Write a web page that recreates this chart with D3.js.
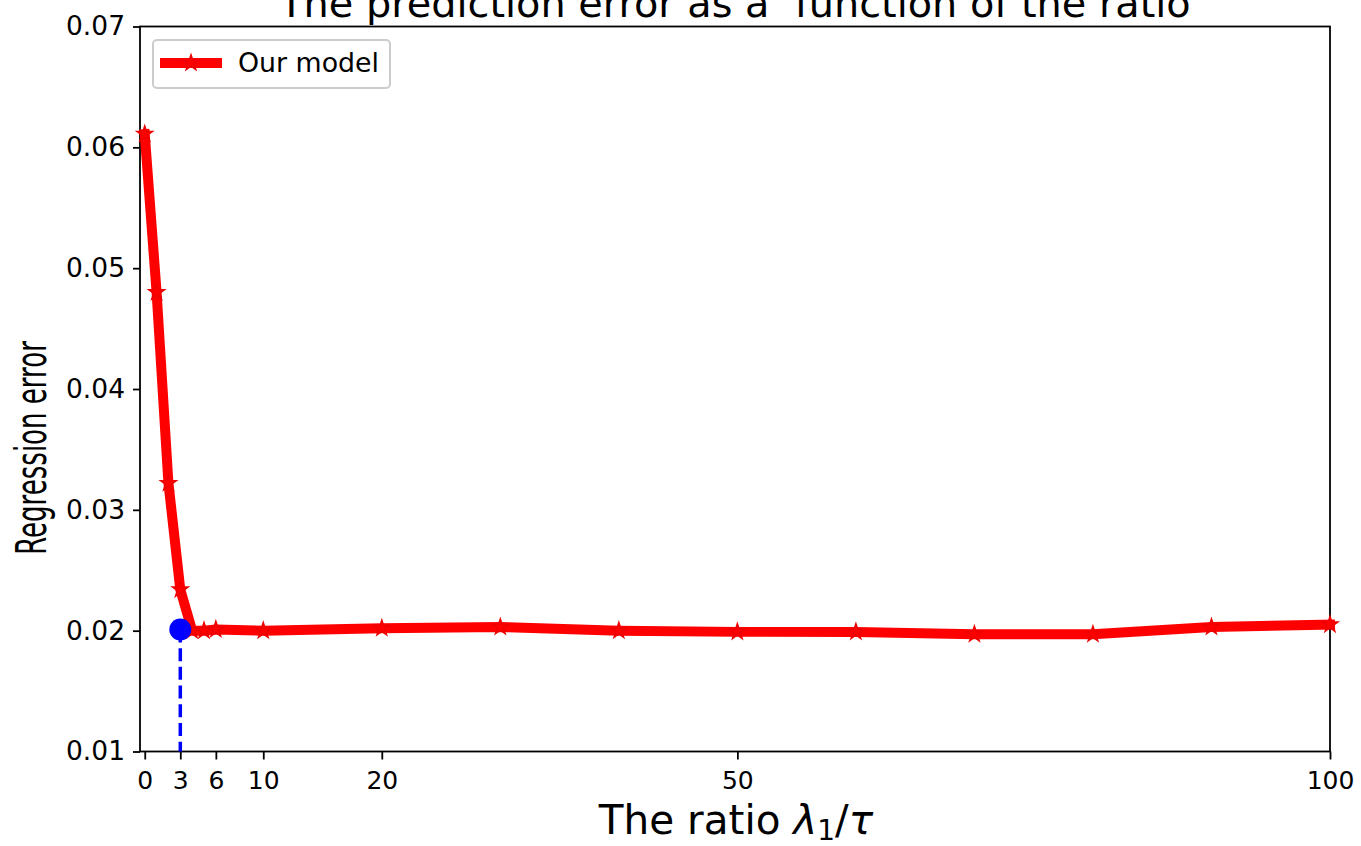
<!DOCTYPE html>
<html><head><meta charset="utf-8">
<script src="https://cdn.jsdelivr.net/npm/d3@7"></script>
<style>body{margin:0;background:#fff}svg{display:block;font-family:"DejaVu Sans",sans-serif}</style>
</head><body><svg id="c" width="1361" height="846"></svg>
<script>
const ratios = [0, 1, 2, 3, 4, 5, 6, 10, 20, 30, 40, 50, 60, 70, 80, 90, 100];
const errors = [0.0611, 0.0480, 0.0322, 0.0234, 0.0200, 0.0200, 0.0201, 0.0200, 0.0202, 0.0203, 0.0200, 0.0199, 0.0199, 0.0197, 0.0197, 0.0203, 0.0205];
const bestPoint = [3, 0.0201];
const xTicks = [0, 3, 6, 10, 20, 50, 100];
const yTicks = [0.01, 0.02, 0.03, 0.04, 0.05, 0.06, 0.07];
const seriesName = "Our model";
const titleText = "The prediction error as a  function of the ratio";
const yLabelText = "Regression error";

const svg = d3.select("#c");
const L = 140, R = 1330, T = 26.5, B = 751.5;
const x = d3.scaleLinear().domain([-0.4, 100]).range([L, R]);
const y = d3.scaleLinear().domain([0.01, 0.07]).range([B, T]);

// axes
const xa = svg.append("g").attr("transform", `translate(0,${B})`)
  .call(d3.axisBottom(x).tickValues(xTicks).tickFormat(d3.format("d")).tickSize(8).tickPadding(6));
const ya = svg.append("g").attr("transform", `translate(${L},0)`)
  .call(d3.axisLeft(y).tickValues(yTicks).tickFormat(d3.format(".2f")).tickSize(7).tickPadding(8));
[xa, ya].forEach(a => {
  a.select(".domain").remove();
  a.selectAll(".tick line").attr("stroke", "#000").attr("stroke-width", 1.8);
  a.selectAll(".tick text").attr("fill", "#000").style("font-family", "DejaVu Sans");
});
xa.selectAll(".tick text").style("font-size", "25px").attr("dy", "0.71em").attr("y", 20);
ya.selectAll(".tick text").style("font-size", "26.5px");

// frame
svg.append("rect").attr("x", L).attr("y", T).attr("width", R - L).attr("height", B - T)
  .attr("fill", "none").attr("stroke", "#000").attr("stroke-width", 1.8);

// dashed drop line
svg.append("line").attr("x1", x(bestPoint[0])).attr("x2", x(bestPoint[0]))
  .attr("y1", y(bestPoint[1])).attr("y2", y(0.01))
  .attr("stroke", "#0000ff").attr("stroke-width", 3.5).attr("stroke-dasharray", "13,5.7");

// red line
const data = ratios.map((r, i) => [r, errors[i]]);
const line = d3.line().x(d => x(d[0])).y(d => y(d[1]));
svg.append("path").datum(data).attr("d", line).attr("fill", "none")
  .attr("stroke", "#ff0000").attr("stroke-width", 10).attr("stroke-linejoin", "round").attr("stroke-linecap", "square");
const star = d3.symbol().type(d3.symbolStar).size(75);
svg.append("g").selectAll("path").data(data).join("path")
  .attr("d", star).attr("transform", d => `translate(${x(d[0])},${y(d[1])})`)
  .attr("fill", "#ff0000").attr("stroke", "#ee0000").attr("stroke-width", 1.5);

// blue dot
svg.append("circle").attr("cx", x(bestPoint[0])).attr("cy", y(bestPoint[1])).attr("r", 11).attr("fill", "#0000ff");

// legend
const lg = svg.append("g");
lg.append("rect").attr("x", 153).attr("y", 40).attr("width", 237).attr("height", 48).attr("rx", 4)
  .attr("fill", "#fff").attr("fill-opacity", 0.8).attr("stroke", "#cccccc").attr("stroke-width", 2);
lg.append("line").attr("x1", 160).attr("x2", 222).attr("y1", 63).attr("y2", 63)
  .attr("stroke", "#ff0000").attr("stroke-width", 10);
lg.append("path").attr("d", star).attr("transform", "translate(191,63)").attr("fill", "#ff0000").attr("stroke", "#ee0000").attr("stroke-width", 1.5);
lg.append("text").attr("x", 238).attr("y", 72).text(seriesName).style("font-size", "26.8px").attr("fill", "#000");

// title
svg.append("text").attr("x", (L + R) / 2).attr("y", 17).attr("text-anchor", "middle")
  .style("font-size", "39.8px").style("white-space", "pre").attr("xml:space", "preserve").text(titleText);

// x label
const xl = svg.append("text").attr("x", (L + R) / 2 + 1).attr("y", 834).attr("text-anchor", "middle").style("font-size", "40.5px");
xl.append("tspan").text("The ratio ");
xl.append("tspan").style("font-style", "italic").text("λ");
xl.append("tspan").attr("dy", 6).style("font-size", "28px").text("1");
xl.append("tspan").attr("dy", -6).text("/");
xl.append("tspan").style("font-style", "italic").text("τ");

// y label
svg.append("text").attr("transform", "translate(46,448) rotate(-90) scale(0.62,1)")
  .attr("text-anchor", "middle").style("font-size", "42px").text(yLabelText);
</script></body></html>
